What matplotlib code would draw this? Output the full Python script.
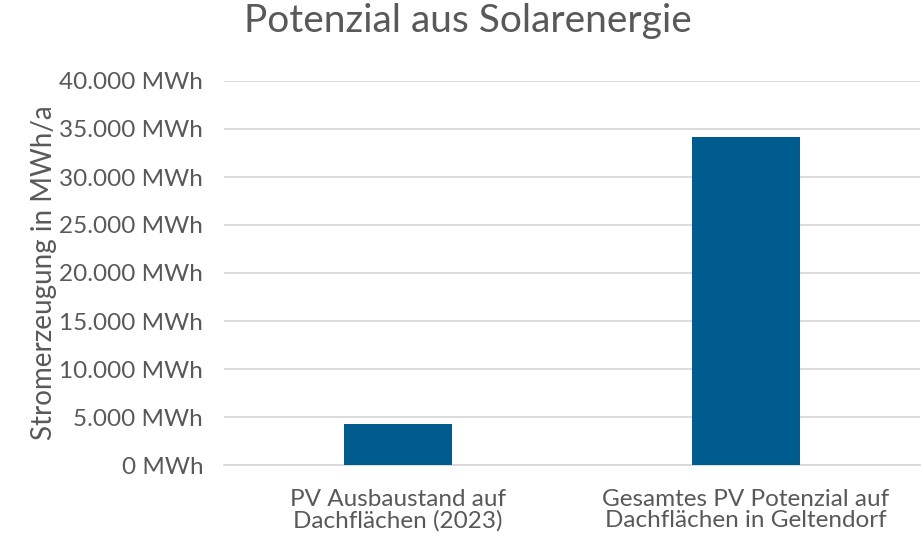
import matplotlib
matplotlib.use("Agg")
import matplotlib.pyplot as plt
from matplotlib.ticker import FuncFormatter

# Solar potential data (MWh per year)
categories = ["PV Ausbaustand auf\nDachflächen (2023)",
              "Gesamtes PV Potenzial auf\nDachflächen in Geltendorf"]
values = [4300, 34200]
y_ticks = [0, 5000, 10000, 15000, 20000, 25000, 30000, 35000, 40000]

plt.rcParams['font.family'] = ['Lato', 'DejaVu Sans']
text_color = "#595959"
bar_color = "#005b8f"
grid_color = "#d9d9d9"

fig = plt.figure(figsize=(9.21, 5.36), dpi=100)
ax = fig.add_axes([224 / 921, 1 - 465 / 536, 696 / 921, 384 / 536])

x = range(len(categories))
ax.bar(x, values, width=0.313, color=bar_color, zorder=3)

ax.set_xlim(-0.5, len(categories) - 0.5)
ax.set_ylim(0, 40000)
ax.set_yticks(y_ticks)
ax.yaxis.set_major_formatter(
    FuncFormatter(lambda v, p: f"{int(v):,} MWh".replace(",", ".")))
ax.set_xticks(list(x))
ax.set_xticklabels(categories, fontsize=17.5, color=text_color, linespacing=1.05)

ax.grid(axis="y", color=grid_color, linewidth=1.3, zorder=0)
for side in ["top", "right", "left"]:
    ax.spines[side].set_visible(False)
ax.spines["bottom"].set_color(grid_color)
ax.spines["bottom"].set_linewidth(1.3)
ax.tick_params(axis="y", length=0, pad=15, labelsize=17.5, labelcolor=text_color)
ax.tick_params(axis="x", length=0, pad=17)

ax.set_ylabel("Stromerzeugung in MWh/a", fontsize=20, color=text_color, labelpad=2)
fig.suptitle("Potenzial aus Solarenergie", fontsize=28, color=text_color,
             x=0.508, y=0.995)

fig.savefig("out.png", dpi=100)
